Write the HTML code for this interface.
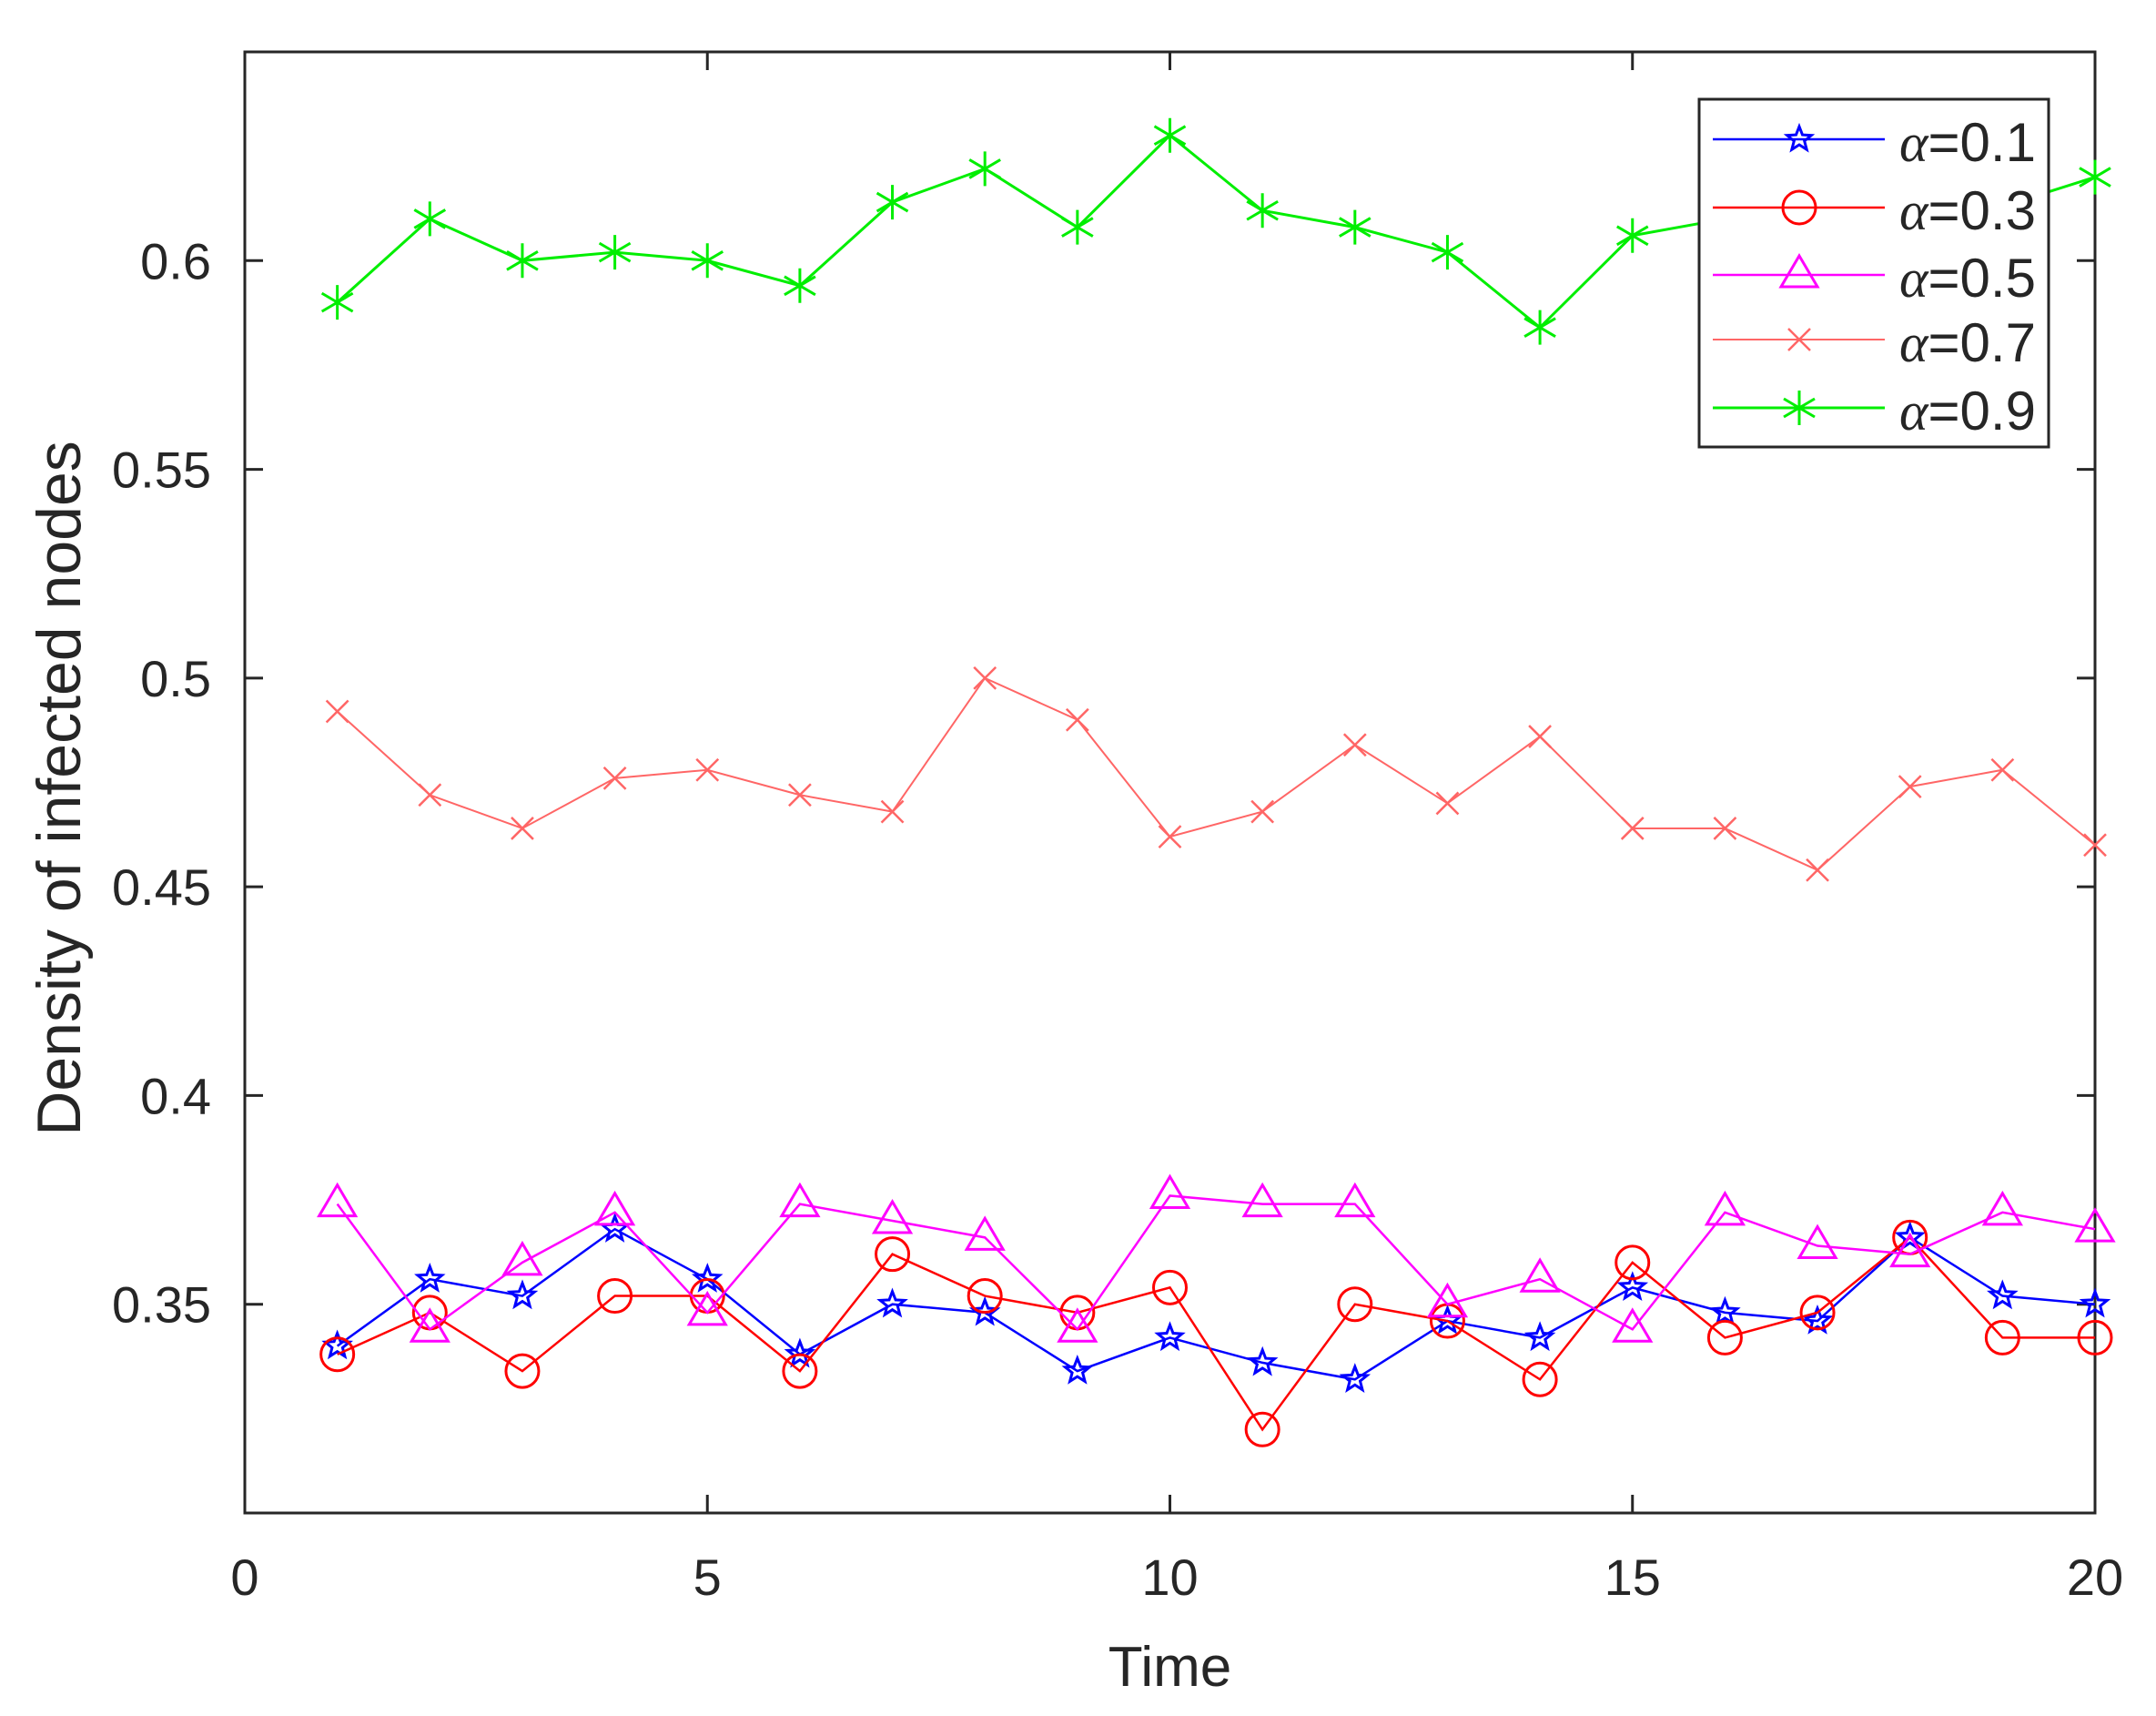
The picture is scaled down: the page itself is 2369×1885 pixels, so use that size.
<!DOCTYPE html>
<html><head><meta charset="utf-8"><style>
html,body{margin:0;padding:0;background:#fff;}
svg{display:block;}
text{font-family:"Liberation Sans",sans-serif;fill:#262626;}
</style></head><body>
<svg id="chart" width="2369" height="1885" viewBox="0 0 2369 1885" xmlns="http://www.w3.org/2000/svg">
<rect width="2369" height="1885" fill="#fff"/>
<g id="axes"></g>
<g id="series"></g>
<g id="legend"></g>
</svg>
<script>
const times = [1,2,3,4,5,6,7,8,9,10,11,12,13,14,15,16,17,18,19,20];
const a01 = [0.340,0.356,0.352,0.368,0.356,0.338,0.350,0.348,0.334,0.342,0.336,0.332,0.346,0.342,0.354,0.348,0.346,0.366,0.352,0.350];
const a03 = [0.338,0.348,0.334,0.352,0.352,0.334,0.362,0.352,0.348,0.354,0.320,0.350,0.346,0.332,0.360,0.342,0.348,0.366,0.342,0.342];
const a05 = [0.374,0.344,0.360,0.372,0.348,0.374,0.370,0.366,0.344,0.376,0.374,0.374,0.350,0.356,0.344,0.372,0.364,0.362,0.372,0.368];
const a07 = [0.492,0.472,0.464,0.476,0.478,0.472,0.468,0.500,0.490,0.462,0.468,0.484,0.470,0.486,0.464,0.464,0.454,0.474,0.478,0.460];
const a09 = [0.590,0.610,0.600,0.602,0.600,0.594,0.614,0.622,0.608,0.630,0.612,0.608,0.602,0.584,0.606,0.610,0.612,0.615,0.613,0.620];
const xTicks = [0,5,10,15,20];
const yTicks = [0.35,0.4,0.45,0.5,0.55,0.6];
const yTickLabels = ["0.35","0.4","0.45","0.5","0.55","0.6"];
const legendLabels = ["0.1","0.3","0.5","0.7","0.9"];

const NS="http://www.w3.org/2000/svg";
const L=269,R=2302,T=57,B=1662;
const xMin=0,xMax=20,yMin=0.3,yMax=0.65;
const xS=v=>L+(v-xMin)/(xMax-xMin)*(R-L);
const yS=v=>B-(v-yMin)/(yMax-yMin)*(B-T);
function mk(tag,attrs,parent){const e=document.createElementNS(NS,tag);for(const k in attrs)e.setAttribute(k,attrs[k]);parent.appendChild(e);return e;}
const axes=document.getElementById('axes');
const frame=mk('rect',{x:L,y:T,width:R-L,height:B-T,fill:'none',stroke:'#262626','stroke-width':3},axes);


xTicks.forEach(t=>{
  const x=xS(t);
  const tk=mk('path',{d:`M${x},${B}v-20M${x},${T}v20`,stroke:'#262626','stroke-width':3},axes);
  
  
  const lb=mk('text',{x:x,y:1752,'text-anchor':'middle','font-size':56},axes);
  lb.textContent=t;
  
  
});
yTicks.forEach((t,i)=>{
  const y=yS(t);
  const tk=mk('path',{d:`M${L},${y}h20M${R},${y}h-20`,stroke:'#262626','stroke-width':3},axes);
  
  
  const lb=mk('text',{x:232,y:y+20,'text-anchor':'end','font-size':56},axes);
  lb.textContent=yTickLabels[i];
  
  
});
const xt=mk('text',{x:(L+R)/2,y:1852,'text-anchor':'middle','font-size':62},axes);
xt.textContent='Time';


const yt=mk('text',{x:0,y:0,'text-anchor':'middle','font-size':68,transform:`translate(88,866) rotate(-90)`},axes);
yt.textContent='Density of infected nodes';



function marker(type,x,y,color,g){
  let e;
  if(type==='star'){
    let p=[];for(let k=0;k<10;k++){const r=k%2?6:14;const a=-Math.PI/2+k*Math.PI/5;p.push((x+r*Math.cos(a)).toFixed(1)+','+(y+r*Math.sin(a)).toFixed(1));}
    e=mk('polygon',{points:p.join(' '),fill:'none',stroke:color,'stroke-width':3},g);
  }else if(type==='circle'){
    e=mk('circle',{cx:x,cy:y,r:18,fill:'none',stroke:color,'stroke-width':3},g);
  }else if(type==='tri'){
    e=mk('polygon',{points:`${x},${y-21} ${x+20},${y+13} ${x-20},${y+13}`,fill:'none',stroke:color,'stroke-width':3},g);
  }else if(type==='x'){
    e=mk('path',{d:`M${x-12},${y-12}L${x+12},${y+12}M${x-12},${y+12}L${x+12},${y-12}`,stroke:color,'stroke-width':2.5},g);
  }else{
    e=mk('path',{d:`M${x},${y-19}V${y+19}M${x-17},${y-10}L${x+17},${y+10}M${x-17},${y+10}L${x+17},${y-10}`,stroke:color,'stroke-width':3},g);
  }
  return e;
}
const defs=[
  {v:a01,c:'#0000ff',m:'star',w:2.5},
  {v:a03,c:'#ff0000',m:'circle',w:2.5},
  {v:a05,c:'#ff00ff',m:'tri',w:2.5},
  {v:a07,c:'#ff6666',m:'x',w:2},
  {v:a09,c:'#00ee00',m:'ast',w:3}
];
const sg=document.getElementById('series');
defs.forEach((s,i)=>{
  const g=mk('g',{},sg);
  
  
  const pl=mk('polyline',{points:times.map((t,j)=>xS(t)+','+yS(s.v[j])).join(' '),fill:'none',stroke:s.c,'stroke-width':s.w},g);
  
  
  times.forEach((t,j)=>{
    const m=marker(s.m,xS(t),yS(s.v[j]),s.c,g);
    
    
  });
});
const lg=document.getElementById('legend');
const box=mk('rect',{x:1867,y:109,width:384,height:382,fill:'#fff',stroke:'#262626','stroke-width':3},lg);


const rows=[153,228,302,373,448];
defs.forEach((s,i)=>{
  const g=mk('g',{},lg);
  
  
  mk('line',{x1:1882,x2:2071,y1:rows[i],y2:rows[i],stroke:s.c,'stroke-width':s.w},g);
  marker(s.m,1977,rows[i],s.c,g);
  const t=mk('text',{x:2087,y:rows[i]+24,'font-size':60},g);
  t.innerHTML='<tspan font-family="Liberation Serif, serif" font-style="italic">α</tspan>=' + legendLabels[i];
});
</script>
</body></html>
